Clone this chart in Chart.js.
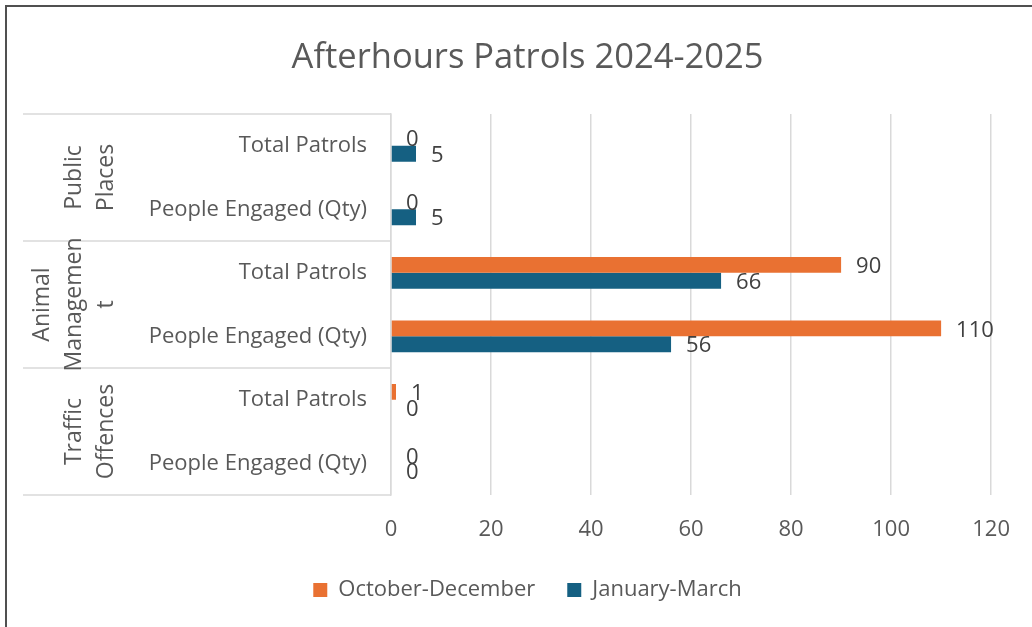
<!DOCTYPE html>
<html>
<head>
<meta charset="utf-8">
<script src="https://cdn.jsdelivr.net/npm/chart.js@4.4.1/dist/chart.umd.min.js"></script>
<style>
    body { margin: 0; background: #fff; }
    #wrap { position: relative; width: 1032px; height: 627px; overflow: hidden; }
    #frame {
        position: absolute; left: 5px; top: 5px; right: -10px; bottom: -10px;
        border-top: 2px solid #505050; border-left: 2px solid #505050;
        pointer-events: none;
    }
</style>
</head>
<body>
<div id="wrap">
    <canvas id="patrolChart"></canvas>
    <div id="frame"></div>
</div>
<script>
// Chart data
const categories = ['Total Patrols', 'People Engaged (Qty)', 'Total Patrols', 'People Engaged (Qty)', 'Total Patrols', 'People Engaged (Qty)'];
const groupLabels = [['Public', 'Places'], ['Animal', 'Managemen', 't'], ['Traffic', 'Offences']];
const groupSize = 2;
const octDec = [0, 0, 90, 110, 1, 0];
const janMar = [5, 5, 66, 56, 0, 0];
const xMax = 120;
const xStep = 20;

const textGrey = '#595959';
const lineGrey = '#d9d9d9';
const fontFamily = '"Open Sans", "Liberation Sans", sans-serif';

// Value labels at the end of each bar
const barValueLabels = {
    id: 'barValueLabels',
    afterDatasetsDraw(chart) {
        const ctx = chart.ctx;
        ctx.save();
        ctx.font = '22px ' + fontFamily;
        ctx.fillStyle = '#404040';
        ctx.textAlign = 'left';
        ctx.textBaseline = 'middle';
        chart.data.datasets.forEach((ds, i) => {
            chart.getDatasetMeta(i).data.forEach((bar, j) => {
                ctx.fillText(ds.data[j], bar.x + 15, bar.y + 2);
            });
        });
        ctx.restore();
    }
};

// Outer category level (group names + separator lines)
const groupAxis = {
    id: 'groupAxis',
    afterDraw(chart) {
        const ctx = chart.ctx;
        const y = chart.scales.y;
        const area = chart.chartArea;
        const left = chart.options.layout.padding.left;
        ctx.save();
        ctx.strokeStyle = lineGrey;
        ctx.lineWidth = 1.5;

        const bounds = [area.top];
        for (let g = 1; g < groupLabels.length; g++) {
            const k = g * groupSize;
            bounds.push((y.getPixelForValue(k - 1) + y.getPixelForValue(k)) / 2);
        }
        bounds.push(area.bottom);
        bounds.forEach(b => {
            ctx.beginPath();
            ctx.moveTo(left, b);
            ctx.lineTo(area.left, b);
            ctx.stroke();
        });

        ctx.font = '23px ' + fontFamily;
        ctx.fillStyle = textGrey;
        ctx.textAlign = 'center';
        ctx.textBaseline = 'middle';
        groupLabels.forEach((lines, g) => {
            const cy = (bounds[g] + bounds[g + 1]) / 2;
            lines.forEach((line, i) => {
                const cx = 106 - (lines.length - 1 - i) * 32;
                ctx.save();
                ctx.translate(cx, cy);
                ctx.rotate(-Math.PI / 2);
                ctx.fillText(line, 0, 0);
                ctx.restore();
            });
        });
        ctx.restore();
    }
};

const ctx = document.getElementById('patrolChart').getContext('2d');
new Chart(ctx, {
    type: 'bar',
    data: {
        labels: categories,
        datasets: [{
            label: 'October-December',
            data: octDec,
            backgroundColor: '#e97132',
            borderWidth: 0,
            yAxisID: 'y'
        }, {
            label: 'January-March',
            data: janMar,
            backgroundColor: '#156082',
            borderWidth: 0,
            yAxisID: 'y'
        }]
    },
    options: {
        indexAxis: 'y',
        responsive: true,
        maintainAspectRatio: false,
        animation: false,
        categoryPercentage: 0.5,
        barPercentage: 1.0,
        layout: {
            padding: { left: 23, right: 0, top: 0, bottom: 16 }
        },
        scales: {
            y: {
                position: 'left',
                grid: { display: false },
                border: { display: true, color: lineGrey, width: 1.5 },
                ticks: {
                    color: textGrey,
                    font: { family: fontFamily, size: 22 },
                    padding: 16
                },
                afterFit(scale) { scale.width = 368; }
            },
            yRight: {
                type: 'category',
                position: 'right',
                grid: { display: false },
                border: { display: false },
                ticks: { display: false },
                afterFit(scale) { scale.width = 39; }
            },
            x: {
                min: 0,
                max: xMax,
                ticks: {
                    stepSize: xStep,
                    color: textGrey,
                    font: { family: fontFamily, size: 22 },
                    padding: 22
                },
                grid: { color: lineGrey, lineWidth: 1.5, drawTicks: false },
                border: { display: false },
                afterFit(scale) { scale.height = 52; }
            }
        },
        plugins: {
            title: {
                display: true,
                text: 'Afterhours Patrols 2024-2025',
                color: textGrey,
                font: { family: fontFamily, size: 34.5, weight: 'normal' },
                padding: { top: 37, bottom: 35.6 }
            },
            legend: {
                position: 'bottom',
                labels: {
                    color: textGrey,
                    font: { family: fontFamily, size: 22 },
                    boxWidth: 14,
                    boxHeight: 14,
                    padding: 32
                }
            },
            tooltip: { enabled: false }
        }
    },
    plugins: [barValueLabels, groupAxis]
});
</script>
</body>
</html>
